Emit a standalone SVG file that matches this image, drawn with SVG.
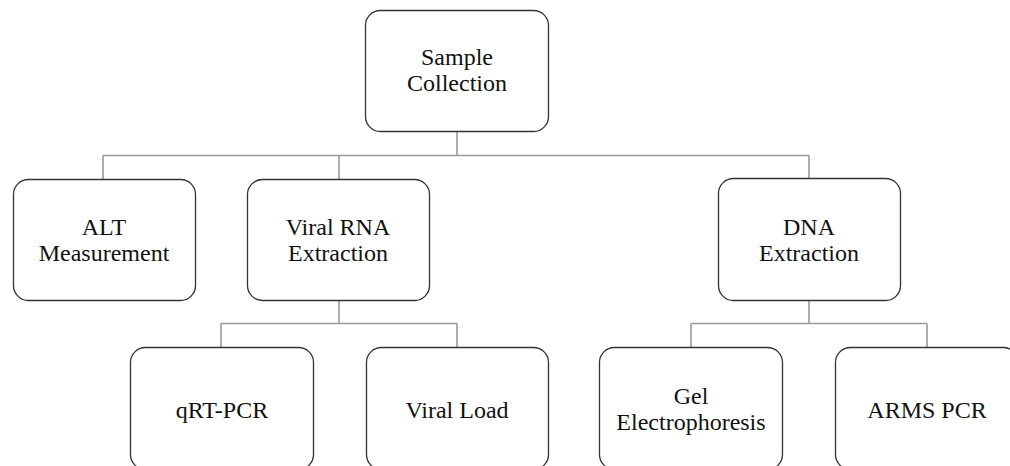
<svg xmlns="http://www.w3.org/2000/svg" width="1010" height="466" viewBox="0 0 1010 466">
  <style>
    .box { fill: #ffffff; stroke: #333333; stroke-width: 1.3; }
    .link { fill: none; stroke: #9a9a9a; stroke-width: 1.6; }
    .label { font-family: "Liberation Serif", "Times New Roman", serif; font-size: 24px; fill: #111111; text-anchor: middle; }
  </style>
  <rect width="1010" height="466" fill="#ffffff"/>

  <!-- tree connectors -->
  <g id="connectors">
    <path class="link" d="M457 131 V155.5 M103 155.5 H809 M103 155.5 V179 M339 155.5 V179 M809 155.5 V178"/>
    <path class="link" d="M339 301 V323.5 M221 323.5 H457 M221 323.5 V347 M457 323.5 V347"/>
    <path class="link" d="M809 301 V323.5 M691 323.5 H927 M691 323.5 V347 M927 323.5 V347"/>
  </g>

  <g id="sample-collection">
    <rect class="box" x="365.5" y="10.5" width="183" height="121" rx="15"/>
    <text class="label" x="457" y="65">Sample</text>
    <text class="label" x="457" y="91">Collection</text>
  </g>

  <g id="alt-measurement">
    <rect class="box" x="13.5" y="179.5" width="182" height="121" rx="15"/>
    <text class="label" x="104" y="235">ALT</text>
    <text class="label" x="104" y="260.5">Measurement</text>
  </g>

  <g id="viral-rna-extraction">
    <rect class="box" x="247.5" y="179.5" width="182" height="121" rx="15"/>
    <text class="label" x="338" y="235">Viral RNA</text>
    <text class="label" x="338" y="260.5">Extraction</text>
  </g>

  <g id="dna-extraction">
    <rect class="box" x="718.5" y="178.5" width="182" height="122" rx="15"/>
    <text class="label" x="809" y="235">DNA</text>
    <text class="label" x="809" y="260.5">Extraction</text>
  </g>

  <g id="qrt-pcr">
    <rect class="box" x="130.5" y="347.5" width="183" height="122" rx="15"/>
    <text class="label" x="222" y="418">qRT-PCR</text>
  </g>

  <g id="viral-load">
    <rect class="box" x="366.5" y="347.5" width="182" height="122" rx="15"/>
    <text class="label" x="457" y="418">Viral Load</text>
  </g>

  <g id="gel-electrophoresis">
    <rect class="box" x="599.5" y="347.5" width="183" height="122" rx="15"/>
    <text class="label" x="691" y="404">Gel</text>
    <text class="label" x="691" y="430">Electrophoresis</text>
  </g>

  <g id="arms-pcr">
    <rect class="box" x="835.5" y="347.5" width="183" height="122" rx="15"/>
    <text class="label" x="927" y="418">ARMS PCR</text>
  </g>
</svg>
